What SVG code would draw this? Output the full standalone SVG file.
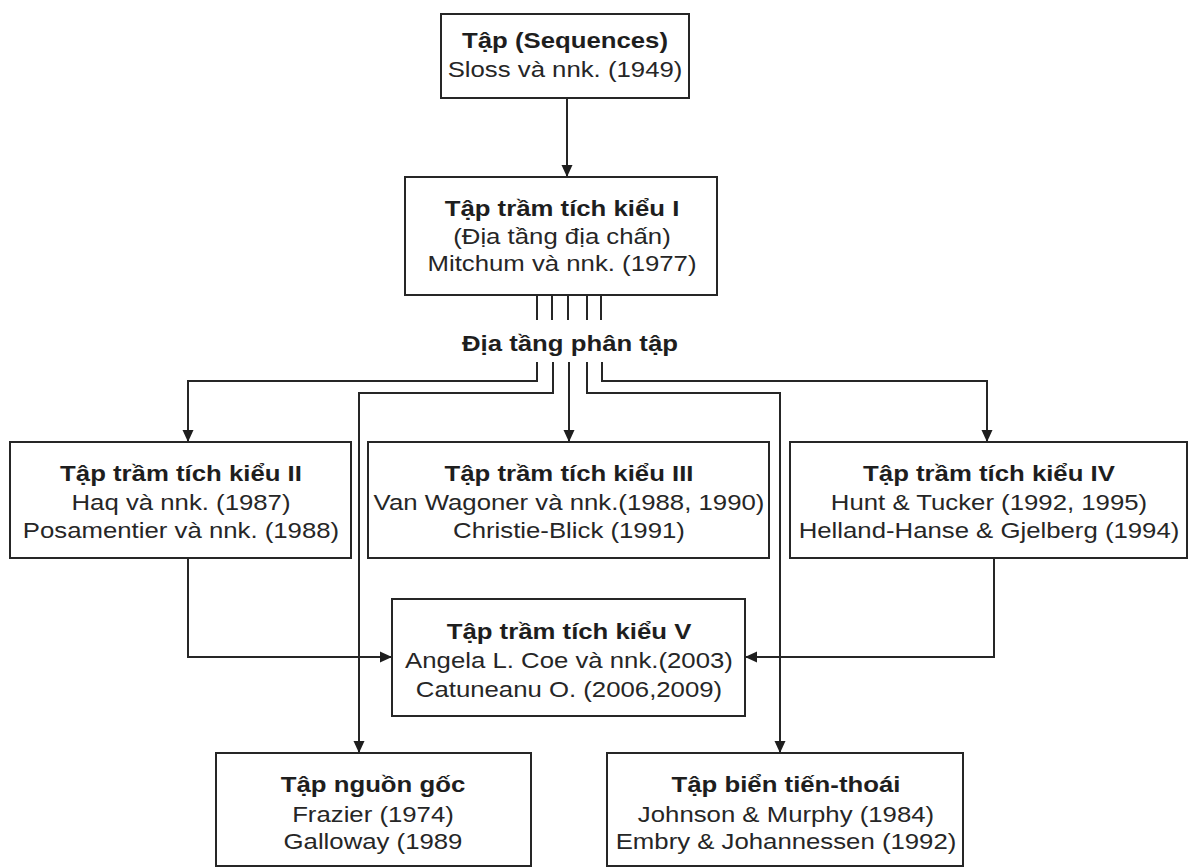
<svg xmlns="http://www.w3.org/2000/svg" width="1189" height="868" viewBox="0 0 1189 868">
<style>
.box{fill:#fff;stroke:#262626;stroke-width:2}
.b{font-family:"Liberation Sans",Arial,sans-serif;font-size:23px;font-weight:bold;fill:#1e1e1e;text-anchor:middle}
.r{font-family:"Liberation Sans",Arial,sans-serif;font-size:23px;fill:#262626;text-anchor:middle}
.ln{fill:none;stroke:#262626;stroke-width:2}
</style>
<defs>
<marker id="ah" viewBox="0 0 12 12" refX="12" refY="6" markerWidth="12" markerHeight="12" markerUnits="userSpaceOnUse" orient="auto">
<path d="M0,0.5 L12,6 L0,11.5 Z" fill="#1e1e1e"/>
</marker>
</defs>
<rect width="1189" height="868" fill="#fff"/>
<g id="connectors">
<path class="ln" d="M567,98 V177" marker-end="url(#ah)"/>
<path class="ln" d="M537,295 V320 M552,295 V320 M568,295 V320 M587,295 V320 M601,295 V320"/>
<path class="ln" d="M537,362 V381 H188 V442" marker-end="url(#ah)"/>
<path class="ln" d="M553,362 V393 H359 V753" marker-end="url(#ah)"/>
<path class="ln" d="M569,362 V442" marker-end="url(#ah)"/>
<path class="ln" d="M587,362 V393 H780 V753" marker-end="url(#ah)"/>
<path class="ln" d="M602,362 V381 H987 V442" marker-end="url(#ah)"/>
<path class="ln" d="M188,558 V657 H392" marker-end="url(#ah)"/>
<path class="ln" d="M994,558 V657 H745" marker-end="url(#ah)"/>
</g>
<g id="n-sequences">
<rect class="box" x="441" y="14" width="248" height="84"/>
<g transform="matrix(1.12,0,0,1,-67.8,0)">
<text class="b" x="565" y="48">Tập (Sequences)</text>
<text class="r" x="565" y="77">Sloss và nnk. (1949)</text>
</g>
</g>
<g id="n-kieu1">
<rect class="box" x="405" y="177" width="312" height="118"/>
<g transform="matrix(1.12,0,0,1,-67.44,0)">
<text class="b" x="562" y="216">Tập trầm tích kiểu I</text>
<text class="r" x="562" y="244">(Địa tầng địa chấn)</text>
<text class="r" x="562" y="271">Mitchum và nnk. (1977)</text>
</g>
</g>
<g id="n-phantap">
<g transform="matrix(1.12,0,0,1,-68.4,0)">
<text class="b" x="570" y="351">Địa tầng phân tập</text>
</g>
</g>
<g id="n-kieu2">
<rect class="box" x="10" y="442" width="341" height="116"/>
<g transform="matrix(1.12,0,0,1,-21.72,0)">
<text class="b" x="181" y="481">Tập trầm tích kiểu II</text>
<text class="r" x="181" y="510">Haq và nnk. (1987)</text>
<text class="r" x="181" y="538">Posamentier và nnk. (1988)</text>
</g>
</g>
<g id="n-kieu3">
<rect class="box" x="368" y="442" width="401" height="116"/>
<g transform="matrix(1.12,0,0,1,-68.28,0)">
<text class="b" x="569" y="481">Tập trầm tích kiểu III</text>
<text class="r" x="569" y="510">Van Wagoner và nnk.(1988, 1990)</text>
<text class="r" x="569" y="538">Christie-Blick (1991)</text>
</g>
</g>
<g id="n-kieu4">
<rect class="box" x="790" y="442" width="397" height="116"/>
<g transform="matrix(1.12,0,0,1,-118.68,0)">
<text class="b" x="989" y="481">Tập trầm tích kiểu IV</text>
<text class="r" x="989" y="510">Hunt &amp; Tucker (1992, 1995)</text>
<text class="r" x="989" y="538">Helland-Hanse &amp; Gjelberg (1994)</text>
</g>
</g>
<g id="n-kieu5">
<rect class="box" x="392" y="599" width="353" height="117"/>
<g transform="matrix(1.12,0,0,1,-68.28,0)">
<text class="b" x="569" y="639">Tập trầm tích kiểu V</text>
<text class="r" x="569" y="668">Angela L. Coe và nnk.(2003)</text>
<text class="r" x="569" y="697">Catuneanu O. (2006,2009)</text>
</g>
</g>
<g id="n-nguongoc">
<rect class="box" x="216" y="753" width="315" height="113"/>
<g transform="matrix(1.12,0,0,1,-44.76,0)">
<text class="b" x="373" y="792">Tập nguồn gốc</text>
<text class="r" x="373" y="822">Frazier (1974)</text>
<text class="r" x="373" y="849">Galloway (1989</text>
</g>
</g>
<g id="n-bientien">
<rect class="box" x="607" y="753" width="356" height="113"/>
<g transform="matrix(1.12,0,0,1,-94.32,0)">
<text class="b" x="786" y="792">Tập biển tiến-thoái</text>
<text class="r" x="786" y="822">Johnson &amp; Murphy (1984)</text>
<text class="r" x="786" y="849">Embry &amp; Johannessen (1992)</text>
</g>
</g>
</svg>
